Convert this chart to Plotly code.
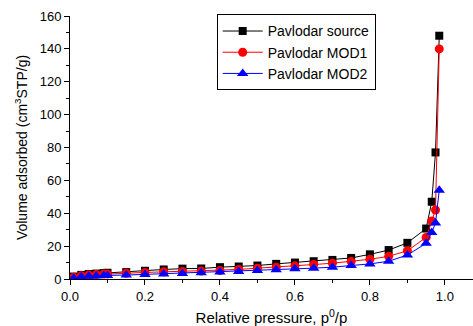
import plotly.graph_objects as go

x_src = [0.01, 0.03, 0.05, 0.07, 0.09, 0.10, 0.15, 0.20, 0.25, 0.30, 0.35, 0.40, 0.45, 0.50,
         0.55, 0.60, 0.65, 0.70, 0.75, 0.80, 0.85, 0.90, 0.95, 0.965, 0.975, 0.985]
y_src = [1.5, 2.5, 3.0, 3.3, 3.6, 3.8, 4.2, 5.0, 5.8, 6.3, 6.4, 7.2, 7.6, 8.2,
         9.2, 10.0, 10.8, 11.6, 12.8, 15.0, 17.6, 22.0, 30.7, 47.0, 77.0, 148.0]

x_m1 = x_src
y_m1 = [1.0, 2.0, 2.4, 2.7, 3.0, 3.1, 3.5, 4.0, 4.4, 4.6, 4.8, 5.2, 5.8, 6.6,
        7.2, 8.0, 8.8, 9.6, 10.6, 12.0, 13.8, 17.2, 25.3, 35.3, 42.0, 140.0]

x_m2 = x_src
y_m2 = [0.5, 1.3, 1.6, 1.9, 2.1, 2.2, 2.4, 2.8, 3.1, 3.4, 3.8, 4.2, 4.6, 5.2,
        5.6, 6.2, 6.6, 7.2, 8.2, 9.2, 10.8, 14.6, 21.7, 28.3, 34.0, 54.0]

names = ["Pavlodar source", "Pavlodar MOD1", "Pavlodar MOD2"]
colors = ["#000000", "#ff0000", "#0000ff"]
symbols = ["square", "circle", "triangle-up"]
sizes = [8, 9, 10]

fig = go.Figure()
for xs, ys, n, c, s, sz in zip([x_src, x_m1, x_m2], [y_src, y_m1, y_m2], names, colors, symbols, sizes):
    fig.add_trace(go.Scatter(x=xs, y=ys, name=n, mode="lines+markers",
                             line=dict(color=c, width=1),
                             marker=dict(color=c, symbol=s, size=sz)))

font = "Liberation Sans, Arial, sans-serif"
fig.update_layout(
    width=473, height=326,
    margin=dict(l=70, r=0, t=16, b=44),
    plot_bgcolor="white", paper_bgcolor="white",
    font=dict(family=font, color="#000000", size=13),
    legend=dict(x=0.364, y=1.006, xanchor="left", yanchor="top",
                bordercolor="#000000", borderwidth=1, bgcolor="white",
                font=dict(size=14, family=font), itemwidth=40,
                tracegroupgap=0),
    xaxis=dict(range=[0, 1.075], showline=True, linecolor="#000000", linewidth=1,
               showgrid=False, zeroline=False, ticks="outside", ticklen=5,
               tickcolor="#000000", tickvals=[0, 0.2, 0.4, 0.6, 0.8, 1.0],
               ticktext=["0.0", "0.2", "0.4", "0.6", "0.8", "1.0"],
               minor=dict(ticks="outside", ticklen=3, tickcolor="#000000",
                          tickvals=[0.1, 0.3, 0.5, 0.7, 0.9]),
               title=dict(text="Relative pressure, p<sup>0</sup>/p",
                          font=dict(size=15, family=font), standoff=12)),
    yaxis=dict(range=[0, 160], showline=True, linecolor="#000000", linewidth=1,
               showgrid=False, zeroline=False, ticks="outside", ticklen=5,
               tickcolor="#000000", dtick=20,
               minor=dict(ticks="outside", ticklen=3, tickcolor="#000000", dtick=10),
               title=dict(text="Volume adsorbed (cm<sup>3</sup>STP/g)",
                          font=dict(size=14, family=font), standoff=8)),
)

fig.write_html("out.html")
